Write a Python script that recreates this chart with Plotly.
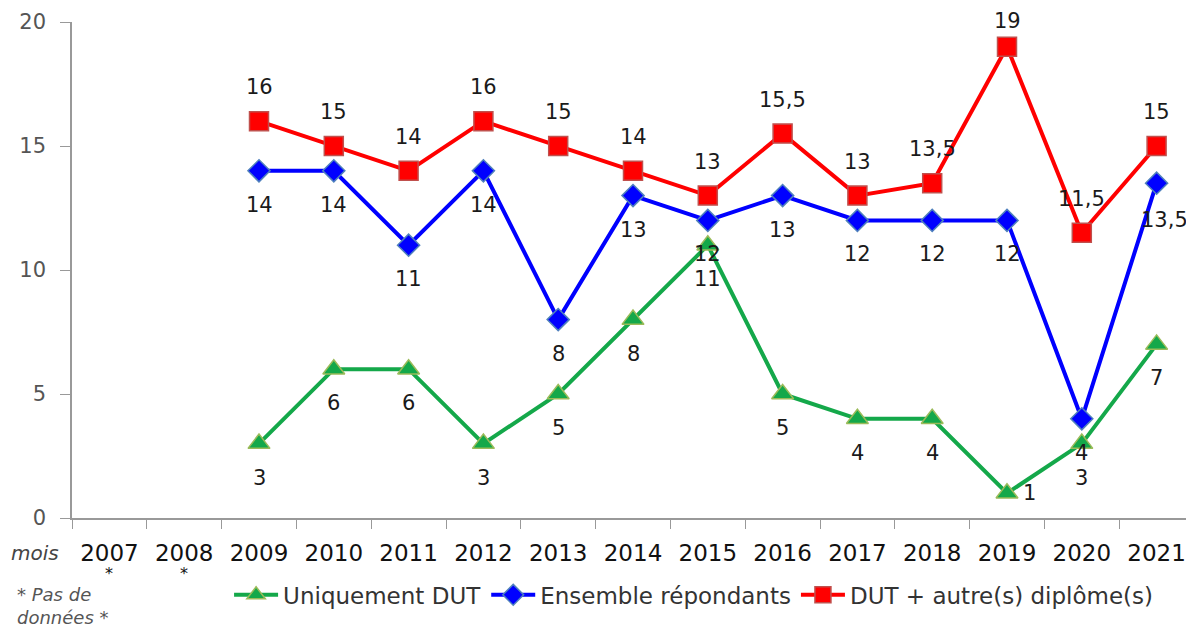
import plotly.graph_objects as go

years = ["2007", "2008", "2009", "2010", "2011", "2012", "2013", "2014",
         "2015", "2016", "2017", "2018", "2019", "2020", "2021"]
uniquement_dut = [None, None, 3, 6, 6, 3, 5, 8, 11, 5, 4, 4, 1, 3, 7]
ensemble = [None, None, 14, 14, 11, 14, 8, 13, 12, 13, 12, 12, 12, 4, 13.5]
dut_autre = [None, None, 16, 15, 14, 16, 15, 14, 13, 15.5, 13, 13.5, 19, 11.5, 15]
no_data_years = ["2007", "2008"]

FONT = "DejaVu Sans"


def fmt(v):
    s = ("%g" % v)
    return s.replace(".", ",")


fig = go.Figure()

series = [
    dict(name="Uniquement DUT", y=uniquement_dut, color="#14A84A", symbol="triangle-up",
         mline="#9BBB59", size=19, pos=+1),
    dict(name="Ensemble répondants", y=ensemble, color="#0000FF", symbol="diamond",
         mline="#4F81BD", size=17, pos=+1),
    dict(name="DUT + autre(s) diplôme(s)", y=dut_autre, color="#FF0000", symbol="square",
         mline="#C0504D", size=19, pos=-1),
]

for s in series:
    fig.add_trace(go.Scatter(
        x=years, y=s["y"], mode="lines+markers", name=s["name"],
        line=dict(color=s["color"], width=4),
        marker=dict(symbol=s["symbol"], size=s["size"], color=s["color"],
                    line=dict(color=s["mline"], width=1.5)),
        connectgaps=False, cliponaxis=False,
    ))

annotations = []
special = {
    ("Uniquement DUT", "2019"): (22, 0),
    ("Ensemble répondants", "2021"): (8, -37),
    ("DUT + autre(s) diplôme(s)", "2019"): (0, 26),
}
for s in series:
    for i, (x, v) in enumerate(zip(years, s["y"])):
        if v is None:
            continue
        xs, ys = special.get((s["name"], x), (0, -34 if s["pos"] > 0 else 34))
        annotations.append(dict(
            x=i, y=v, xref="x", yref="y", text=fmt(v), showarrow=False,
            xshift=xs, yshift=ys, font=dict(family=FONT, size=21, color="#1a1a1a"),
        ))

annotations.append(dict(x=-0.033, y=-0.0706, xref="paper", yref="paper", text="<i>mois</i>",
                        showarrow=False, xanchor="center", yanchor="middle",
                        font=dict(family=FONT, size=20, color="#444")))
for yr in no_data_years:
    annotations.append(dict(x=years.index(yr), y=-0.112, xref="x", yref="paper", text="*",
                            showarrow=False, xanchor="center", yanchor="middle",
                            font=dict(family=FONT, size=16, color="#111")))
annotations.append(dict(x=-0.051, y=-0.177, xref="paper", yref="paper",
                        text="<i>* Pas de<br>données *</i>", showarrow=False,
                        xanchor="left", yanchor="middle", align="left",
                        font=dict(family=FONT, size=18, color="#555")))

fig.update_layout(
    width=1186, height=626,
    margin=dict(l=64, r=0, t=14, b=116, autoexpand=False),
    paper_bgcolor="white", plot_bgcolor="white",
    font=dict(family=FONT, color="#333"),
    showlegend=True,
    legend=dict(orientation="h", x=0.14, y=-0.155, xanchor="left", yanchor="middle",
                font=dict(family=FONT, size=23, color="#333"), itemwidth=44,
                traceorder="normal"),
    annotations=annotations,
    xaxis=dict(type="category", categoryorder="array", categoryarray=years,
               range=[-0.5, 14.5], showgrid=False, showline=True, linecolor="#999",
               linewidth=1.5, ticks="outside", tickson="boundaries", ticklen=9,
               tickcolor="#999", tickfont=dict(family=FONT, size=23, color="#111"),
               ticklabelstandoff=14, zeroline=False, automargin=False),
    yaxis=dict(range=[0, 20], dtick=5, showgrid=False, showline=True, linecolor="#999",
               linewidth=1.5, ticks="outside", ticklen=10, tickcolor="#999",
               tickfont=dict(family=FONT, size=21, color="#555"), zeroline=False,
               ticklabelstandoff=10, automargin=False),
)

fig.write_html("out.html")
